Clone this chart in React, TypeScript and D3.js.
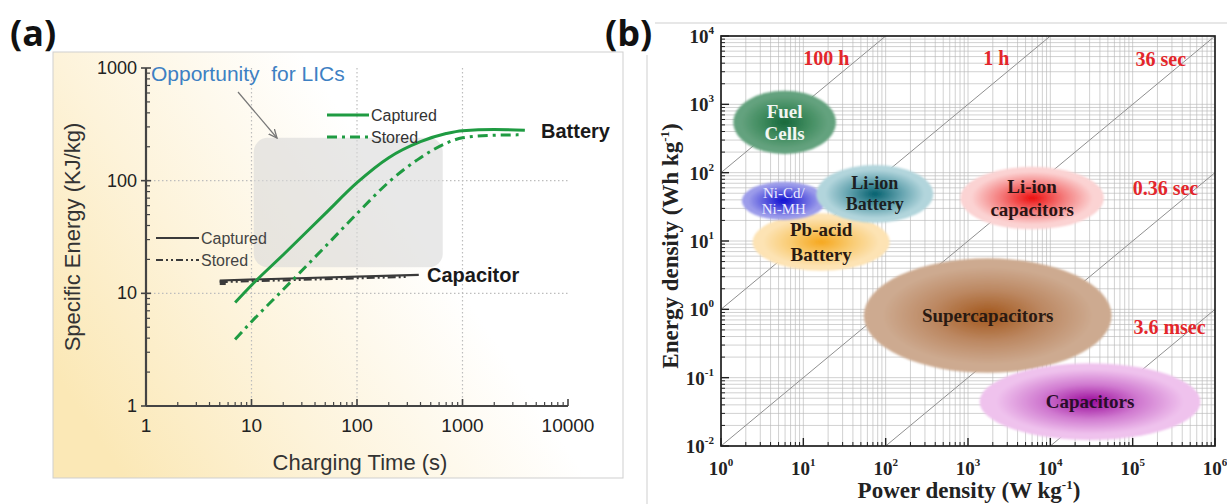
import React from "react";
import * as d3 from "d3";

// ---------- Panel (a): specific energy vs. charging time ----------
const timeTicks = [1, 10, 100, 1000, 10000];
const energyTicksA = [1, 10, 100, 1000];
const batteryCaptured: [number, number][] = [
  [7, 8.3], [10, 11.8], [20, 22], [50, 51], [100, 96], [200, 160],
  [400, 222], [700, 262], [1000, 278], [2000, 284], [3900, 280],
];
const batteryStored: [number, number][] = [
  [7, 3.9], [10, 5.6], [20, 10.8], [50, 26], [100, 51], [200, 97],
  [400, 160], [700, 215], [1000, 240], [2000, 253], [3400, 255],
];
const capacitorCaptured: [number, number][] = [[5, 13.0], [385, 14.6]];
const capacitorStored: [number, number][] = [[5, 12.6], [300, 14.0]];
const licWindowTime = [10.5, 650];
const licWindowEnergy = [17, 240];

// ---------- Panel (b): Ragone plot ----------
const powerExponents = [0, 1, 2, 3, 4, 5, 6];
const energyExponents = [-2, -1, 0, 1, 2, 3, 4];
const dischargeHours = [100, 1, 0.01, 1e-4, 1e-6];
const dischargeLabels = ["100 h", "1 h", "36 sec", "0.36 sec", "3.6 msec"];
const dischargeLabelPower = [19, 2200, 2.2e5, 2.5e5, 2.8e5];
const dischargeLabelEnergy = [4700, 4700, 4600, 60, 0.55];

const regionLines = [
  ["Fuel", "Cells"],
  ["Pb-acid", "Battery"],
  ["Ni-Cd/", "Ni-MH"],
  ["Li-ion", "Battery"],
  ["Li-ion", "capacitors"],
  ["Supercapacitors"],
  ["Capacitors"],
];
const regionPower = [
  [1.41, 24.9], [2.42, 112], [1.79, 18.8], [14.4, 379],
  [807, 44700], [54.3, 55500], [1384, 665000],
];
const regionEnergy = [
  [188, 1585], [3.68, 25.4], [20.3, 73.8], [18.5, 129],
  [14.8, 122], [0.118, 5.57], [0.01225, 0.162],
];
const regionColors = [
  ["#17683c", "#3f8b5e", "#64a27e"],
  ["#f6a71e", "#f9cb72", "#fde3b4"],
  ["#0e0ed2", "#5858de", "#9c9cea"],
  ["#05606e", "#62a2ae", "#b2d5dc"],
  ["#ee0f0f", "#f47d7d", "#fbd3d3"],
  ["#a2561a", "#bc8862", "#cdaa90"],
  ["#9a0a9a", "#d07ad0", "#efc2ed"],
];
const regionTextColor = ["#f2f6f2", "#2a1a12", "#ececff", "#1c2022", "#2a1414", "#2a1a12", "#2a0e2a"];
const regionFontSize = [19, 19, 15, 18, 19, 19, 19];
const regionLineGap = [22, 25, 16, 21, 23, 0, 0];

const SANS = "'Liberation Sans', Arial, sans-serif";
const SERIF = "'Liberation Serif', 'Times New Roman', serif";

function logMinor(lo: number, hi: number): number[] {
  const out: number[] = [];
  for (let e = lo; e < hi; e++) {
    for (let m = 2; m <= 9; m++) out.push(m * Math.pow(10, e));
  }
  return out;
}

function PanelA() {
  const x = d3.scaleLog().domain([1, 10000]).range([146, 568]);
  const y = d3.scaleLog().domain([1, 1000]).range([406, 68]);
  const line = d3
    .line<[number, number]>()
    .x((d) => x(d[0]))
    .y((d) => y(d[1]))
    .curve(d3.curveMonotoneX);
  const green = "#1f9b42";
  const dark = "#3a3a3a";
  const axisColor = "#444";
  const xMinor = logMinor(0, 4);
  const yMinor = logMinor(0, 3);

  return (
    <g fontFamily={SANS}>
      <defs>
        <linearGradient id="bgA" x1="0" y1="0.75" x2="1" y2="0.25">
          <stop offset="0" stopColor="#fbe8b6" />
          <stop offset="0.3" stopColor="#fdf3da" />
          <stop offset="0.65" stopColor="#ffffff" />
          <stop offset="1" stopColor="#ffffff" />
        </linearGradient>
        <marker id="arrowA" viewBox="0 0 10 10" refX="9" refY="5" markerWidth="8" markerHeight="8" orient="auto">
          <path d="M0,1 L9,5 L0,9" fill="none" stroke="#777" strokeWidth="1.4" />
        </marker>
      </defs>
      <rect x={53} y={52} width={570} height={426} fill="url(#bgA)" stroke="#cfcfcf" strokeWidth={1} />

      {/* dotted grid */}
      {[10, 100, 1000].map((t) => (
        <line key={"gx" + t} x1={x(t)} x2={x(t)} y1={y(1000)} y2={y(1)} stroke="#bdbdbd" strokeWidth={1.2} strokeDasharray="1.5,2.5" />
      ))}
      {[10, 100].map((e) => (
        <line key={"gy" + e} x1={x(1)} x2={x(10000)} y1={y(e)} y2={y(e)} stroke="#bdbdbd" strokeWidth={1.2} strokeDasharray="1.5,2.5" />
      ))}

      {/* region where lithium-ion capacitors fit */}
      <rect
        x={x(licWindowTime[0])}
        y={y(licWindowEnergy[1])}
        width={x(licWindowTime[1]) - x(licWindowTime[0])}
        height={y(licWindowEnergy[0]) - y(licWindowEnergy[1])}
        rx={14}
        fill="#d8d8d8"
        opacity={0.6}
      />
      <text x={151} y={73} fill="#3d80c3" fontSize={21} dominantBaseline="central" style={{ whiteSpace: "pre" }}>
        {"Opportunity  for LICs"}
      </text>
      <line x1={238} y1={92} x2={277} y2={138} stroke="#777" strokeWidth={1.2} markerEnd="url(#arrowA)" />

      {/* capacitor */}
      <path d={line(capacitorCaptured) || ""} fill="none" stroke={dark} strokeWidth={2.2} />
      <path d={line(capacitorStored) || ""} fill="none" stroke={dark} strokeWidth={2.2} strokeDasharray="8,3,2,3,2,3" />
      <rect x={x(capacitorStored[0][0])} y={y(capacitorStored[0][1]) - 2} width={6} height={5} fill={dark} />

      {/* battery */}
      <path d={line(batteryCaptured) || ""} fill="none" stroke={green} strokeWidth={3} />
      <path d={line(batteryStored) || ""} fill="none" stroke={green} strokeWidth={3} strokeDasharray="10,5,3,5" />

      {/* axes */}
      <line x1={x(1)} x2={x(1)} y1={y(1)} y2={y(1000)} stroke={axisColor} strokeWidth={2.2} />
      <line x1={x(1)} x2={x(10000)} y1={y(1)} y2={y(1)} stroke={axisColor} strokeWidth={2.2} />
      {yMinor.map((v) => (
        <line key={"ymn" + v} x1={x(1)} x2={x(1) + 4} y1={y(v)} y2={y(v)} stroke={axisColor} strokeWidth={1.2} />
      ))}
      {energyTicksA.map((v) => (
        <g key={"ymj" + v}>
          <line x1={x(1) - 5} x2={x(1) + 5} y1={y(v)} y2={y(v)} stroke={axisColor} strokeWidth={1.6} />
          <text x={x(1) - 9} y={y(v)} textAnchor="end" dominantBaseline="central" fontSize={18} fill="#222">
            {v}
          </text>
        </g>
      ))}
      {xMinor.map((v) => (
        <line key={"xmn" + v} x1={x(v)} x2={x(v)} y1={y(1)} y2={y(1) - 4} stroke={axisColor} strokeWidth={1.2} />
      ))}
      {timeTicks.map((v) => (
        <g key={"xmj" + v}>
          <line x1={x(v)} x2={x(v)} y1={y(1)} y2={y(1) - 7} stroke={axisColor} strokeWidth={1.6} />
          <text x={x(v)} y={425} textAnchor="middle" dominantBaseline="central" fontSize={19} fill="#222">
            {v}
          </text>
        </g>
      ))}
      <text x={360} y={462} textAnchor="middle" dominantBaseline="central" fontSize={22} fill="#333">
        Charging Time (s)
      </text>
      <text transform="translate(72,237) rotate(-90)" textAnchor="middle" dominantBaseline="central" fontSize={22} fill="#333">
        Specific Energy (KJ/kg)
      </text>

      {/* legends */}
      <line x1={327} x2={369} y1={115} y2={115} stroke={green} strokeWidth={3} />
      <line x1={327} x2={369} y1={137} y2={137} stroke={green} strokeWidth={3} strokeDasharray="10,5,3,5" />
      <text x={371} y={115} dominantBaseline="central" fontSize={16} fill="#333">Captured</text>
      <text x={371} y={137} dominantBaseline="central" fontSize={16} fill="#333">Stored</text>
      <line x1={156} x2={199} y1={238} y2={238} stroke={dark} strokeWidth={2} />
      <line x1={156} x2={199} y1={260} y2={260} stroke={dark} strokeWidth={2} strokeDasharray="7,3,2,3,2,3" />
      <text x={201} y={238} dominantBaseline="central" fontSize={16} fill="#444">Captured</text>
      <text x={201} y={260} dominantBaseline="central" fontSize={16} fill="#444">Stored</text>

      <text x={541} y={131} dominantBaseline="central" fontSize={20} fontWeight="bold" fill="#1a1a1a">Battery</text>
      <text x={427} y={275} dominantBaseline="central" fontSize={20} fontWeight="bold" fill="#1a1a1a">Capacitor</text>
    </g>
  );
}

function PanelB() {
  const x = d3.scaleLog().domain([1, 1e6]).range([721, 1215]);
  const y = d3.scaleLog().domain([0.01, 1e4]).range([446, 36]);
  const [x0, x1] = x.range();
  const [y0, y1] = y.range();
  const xMinor = logMinor(0, 6);
  const yMinor = logMinor(-2, 4);
  const xAll = [...xMinor, ...powerExponents.map((e) => Math.pow(10, e))];
  const yAll = [...yMinor, ...energyExponents.map((e) => Math.pow(10, e))];

  return (
    <g fontFamily={SERIF}>
      <defs>
        <clipPath id="plotB">
          <rect x={x0} y={y1} width={x1 - x0} height={y0 - y1} />
        </clipPath>
        <filter id="soft" x="-10%" y="-10%" width="120%" height="120%">
          <feGaussianBlur stdDeviation="0.8" />
        </filter>
        {regionColors.map((c, i) => (
          <radialGradient key={"rg" + i} id={"rg" + i} cx="0.5" cy="0.5" r="0.5">
            <stop offset="0" stopColor={c[0]} />
            <stop offset="0.45" stopColor={c[1]} />
            <stop offset="0.85" stopColor={c[2]} />
            <stop offset="1" stopColor={c[2]} />
          </radialGradient>
        ))}
      </defs>

      {/* grid */}
      <g stroke="#b8b8b8" strokeWidth={0.65}>
        {xAll.map((v) => (
          <line key={"gx" + v} x1={x(v)} x2={x(v)} y1={y1} y2={y0} />
        ))}
        {yAll.map((v) => (
          <line key={"gy" + v} x1={x0} x2={x1} y1={y(v)} y2={y(v)} />
        ))}
      </g>

      {/* constant discharge-time lines */}
      <g clipPath="url(#plotB)">
        {dischargeHours.map((t) => {
          const pa = Math.max(1, 0.01 / t);
          const pb = Math.min(1e6, 1e4 / t);
          return <line key={"t" + t} x1={x(pa)} y1={y(pa * t)} x2={x(pb)} y2={y(pb * t)} stroke="#8f8f8f" strokeWidth={1} />;
        })}
      </g>
      {dischargeLabels.map((s, i) => (
        <text key={s} x={x(dischargeLabelPower[i])} y={y(dischargeLabelEnergy[i])} textAnchor="middle" dominantBaseline="central" fontSize={20} fontWeight="bold" fill="#e3262b">
          {s}
        </text>
      ))}

      {/* technology regions */}
      <g clipPath="url(#plotB)">
        {regionLines.map((lines, i) => {
          const cx = (x(regionPower[i][0]) + x(regionPower[i][1])) / 2;
          const cy = (y(regionEnergy[i][0]) + y(regionEnergy[i][1])) / 2;
          const rx = (x(regionPower[i][1]) - x(regionPower[i][0])) / 2;
          const ry = (y(regionEnergy[i][0]) - y(regionEnergy[i][1])) / 2;
          const gap = regionLineGap[i];
          return (
            <g key={"r" + i}>
              <ellipse cx={cx} cy={cy} rx={rx} ry={ry} fill={`url(#rg${i})`} filter="url(#soft)" />
              {lines.map((l, j) => (
                <text
                  key={l}
                  x={cx}
                  y={cy + (j - (lines.length - 1) / 2) * gap}
                  textAnchor="middle"
                  dominantBaseline="central"
                  fontSize={regionFontSize[i]}
                  fontWeight={i === 2 ? "normal" : "bold"}
                  fill={regionTextColor[i]}
                >
                  {l}
                </text>
              ))}
            </g>
          );
        })}
      </g>

      {/* frame and ticks */}
      <rect x={x0} y={y1} width={x1 - x0} height={y0 - y1} fill="none" stroke="#222" strokeWidth={1.7} />
      <g stroke="#222">
        {xMinor.map((v) => (
          <line key={"xt" + v} x1={x(v)} x2={x(v)} y1={y0} y2={y0 - 4} strokeWidth={1} />
        ))}
        {powerExponents.map((e) => (
          <line key={"xT" + e} x1={x(Math.pow(10, e))} x2={x(Math.pow(10, e))} y1={y0} y2={y0 - 8} strokeWidth={1.4} />
        ))}
        {yMinor.map((v) => (
          <line key={"yt" + v} x1={x0} x2={x0 + 4} y1={y(v)} y2={y(v)} strokeWidth={1} />
        ))}
        {energyExponents.map((e) => (
          <line key={"yT" + e} x1={x0} x2={x0 + 8} y1={y(Math.pow(10, e))} y2={y(Math.pow(10, e))} strokeWidth={1.4} />
        ))}
      </g>
      {powerExponents.map((e) => (
        <text key={"xl" + e} x={x(Math.pow(10, e))} y={475} textAnchor="middle" fontSize={19} fontWeight="bold" fill="#222">
          10<tspan dy={-9} fontSize={11}>{e}</tspan>
        </text>
      ))}
      {energyExponents.map((e) => (
        <text key={"yl" + e} x={x0 - 7} y={y(Math.pow(10, e)) + 7} textAnchor="end" fontSize={19} fontWeight="bold" fill="#222">
          10<tspan dy={-9} fontSize={11}>{e}</tspan>
        </text>
      ))}
      <text x={969} y={498} textAnchor="middle" fontSize={23} fontWeight="bold" fill="#222">
        Power density (W kg<tspan dy={-9} fontSize={13}>-1</tspan>
        <tspan dy={9}>)</tspan>
      </text>
      <text transform="translate(678,246) rotate(-90)" textAnchor="middle" fontSize={23} fontWeight="bold" fill="#222">
        Energy density (Wh kg<tspan dy={-9} fontSize={13}>-1</tspan>
        <tspan dy={9}>)</tspan>
      </text>
    </g>
  );
}

export default function App() {
  return (
    <svg width={1227} height={504} style={{ position: "absolute", left: 0, top: 0, background: "#fff" }}>
      <rect width={1227} height={504} fill="#fff" />
      {/* panel (b) outer frame */}
      <line x1={655} x2={1227} y1={23} y2={23} stroke="#cfcfcf" />
      <line x1={647} x2={647} y1={55} y2={504} stroke="#cfcfcf" />
      <PanelA />
      <PanelB />
      <text x={10} y={46} fontFamily="'Open Sans', sans-serif" fontWeight="bold" fontSize={36} fill="#111">(a)</text>
      <text x={605} y={46} fontFamily="'Open Sans', sans-serif" fontWeight="bold" fontSize={36} fill="#111">(b)</text>
    </svg>
  );
}
